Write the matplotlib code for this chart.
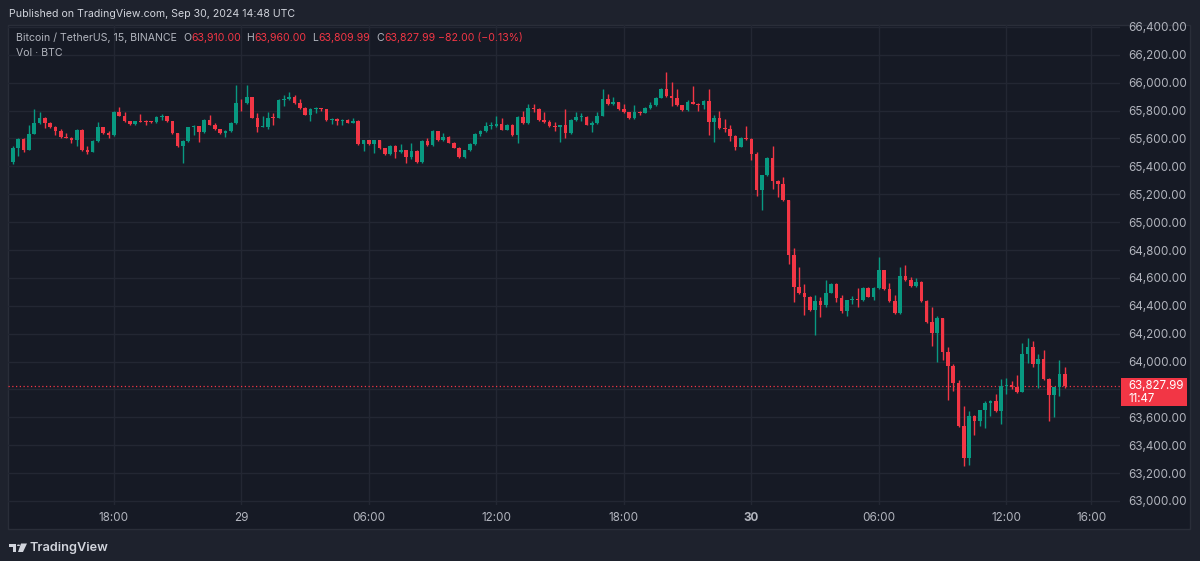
import matplotlib
matplotlib.use("Agg")
import matplotlib.pyplot as plt
from matplotlib.patches import Rectangle, Circle, Polygon

plt.rcParams["font.family"] = ["Inter", "DejaVu Sans"]

# 15 minute BTC/USDT candles, Sep 28 13:15 -> Sep 30 14:45 UTC
first_open = 65433
closes = [
    65535, 65593, 65520, 65632, 65711, 65750, 65711, 65680, 65656, 65612,
    65607, 65590, 65661, 65516, 65506, 65581, 65680, 65636, 65627, 65788,
    65764, 65723, 65704, 65723, 65720, 65718, 65715, 65757, 65760, 65723,
    65636, 65545, 65583, 65680, 65687, 65643, 65733, 65699, 65668, 65636,
    65651, 65711, 65856, 65851, 65897, 65748, 65680, 65684, 65748, 65745,
    65873, 65880, 65897, 65856, 65820, 65769, 65813, 65820, 65808, 65733,
    65740, 65728, 65733, 65714, 65728, 65559, 65588, 65559, 65588, 65530,
    65487, 65549, 65501, 65516, 65467, 65511, 65431, 65583, 65552, 65651,
    65590, 65614, 65571, 65535, 65467, 65516, 65561, 65634, 65651, 65687,
    65690, 65706, 65663, 65699, 65622, 65757, 65711, 65820, 65813, 65735,
    65716, 65687, 65684, 65694, 65636, 65733, 65752, 65756, 65699, 65711,
    65764, 65885, 65844, 65861, 65808, 65788, 65745, 65793, 65784, 65820,
    65837, 65893, 65958, 65904, 65890, 65837, 65801, 65861, 65849, 65842,
    65868, 65721, 65745, 65672, 65668, 65619, 65542, 65607, 65595, 65489,
    65234, 65336, 65461, 65293, 65277, 65157, 64761, 64536, 64489, 64464,
    64369, 64433, 64405, 64493, 64553, 64457, 64364, 64440, 64445, 64440,
    64528, 64464, 64528, 64656, 64517, 64433, 64349, 64614, 64584, 64541,
    64567, 64435, 64285, 64202, 64309, 64070, 63970, 63848, 63537, 63310,
    63611, 63575, 63652, 63705, 63719, 63644, 63824, 63831, 63819, 63783,
    64051, 64106, 63982, 64017, 63874, 63759, 63814, 63910, 63827.99,
]
highs = [
    65545, 65600, 65600, 65699, 65815, 65788, 65755, 65715, 65690, 65670,
    65640, 65612, 65665, 65665, 65547, 65590, 65721, 65685, 65655, 65795,
    65825, 65790, 65725, 65728, 65777, 65735, 65722, 65762, 65775, 65760,
    65725, 65640, 65590, 65685, 65695, 65690, 65740, 65772, 65712, 65670,
    65660, 65718, 65982, 65880, 65982, 65900, 65780, 65760, 65790, 65785,
    65880, 65915, 65935, 65910, 65880, 65825, 65818, 65828, 65822, 65815,
    65745, 65745, 65740, 65738, 65745, 65735, 65592, 65592, 65592, 65592,
    65535, 65555, 65555, 65560, 65520, 65570, 65515, 65590, 65600, 65660,
    65655, 65640, 65618, 65575, 65540, 65520, 65566, 65640, 65660, 65720,
    65715, 65760, 65750, 65705, 65705, 65762, 65795, 65846, 65848, 65818,
    65790, 65730, 65720, 65700, 65808, 65738, 65790, 65785, 65760, 65728,
    65790, 65958, 65922, 65900, 65865, 65845, 65792, 65840, 65800, 65825,
    65865, 65898, 65962, 66078, 66006, 65958, 65840, 65878, 65975, 65855,
    65873, 65953, 65765, 65800, 65740, 65700, 65625, 65612, 65690, 65600,
    65500, 65340, 65470, 65545, 65300, 65325, 65160, 64811, 64675, 64553,
    64470, 64476, 64460, 64585, 64560, 64560, 64480, 64445, 64470, 64529,
    64535, 64535, 64535, 64752, 64660, 64560, 64480, 64675, 64692, 64610,
    64600, 64575, 64440, 64388, 64330, 64315, 64106, 63985, 63870, 63680,
    63645, 63615, 63655, 63720, 63725, 63764, 63875, 63880, 63860, 63902,
    64135, 64170, 64150, 64055, 64080, 63880, 63820, 64010, 63960,
]
lows = [
    65420, 65474, 65505, 65515, 65630, 65705, 65675, 65675, 65627, 65605,
    65600, 65570, 65547, 65510, 65487, 65500, 65575, 65630, 65605, 65620,
    65758, 65718, 65698, 65700, 65715, 65700, 65708, 65710, 65735, 65718,
    65630, 65540, 65426, 65578, 65625, 65578, 65640, 65695, 65660, 65630,
    65610, 65645, 65705, 65800, 65845, 65745, 65643, 65680, 65665, 65700,
    65745, 65830, 65875, 65850, 65815, 65765, 65725, 65785, 65800, 65728,
    65705, 65700, 65695, 65710, 65710, 65555, 65511, 65555, 65498, 65525,
    65480, 65480, 65462, 65495, 65426, 65450, 65425, 65425, 65548, 65548,
    65585, 65585, 65566, 65530, 65462, 65462, 65510, 65556, 65620, 65645,
    65670, 65685, 65658, 65658, 65617, 65571, 65705, 65705, 65790, 65725,
    65710, 65682, 65656, 65578, 65607, 65630, 65728, 65725, 65694, 65650,
    65705, 65758, 65840, 65840, 65803, 65783, 65740, 65740, 65770, 65780,
    65815, 65832, 65888, 65898, 65832, 65832, 65796, 65796, 65844, 65796,
    65810, 65627, 65578, 65667, 65650, 65580, 65520, 65537, 65590, 65445,
    65185, 65090, 65330, 65240, 65180, 65150, 64700, 64430, 64485, 64335,
    64360, 64192, 64320, 64390, 64490, 64430, 64350, 64330, 64410, 64392,
    64435, 64460, 64440, 64520, 64510, 64425, 64340, 64340, 64575, 64535,
    64538, 64425, 64280, 64115, 64000, 64010, 63723, 63790, 63530, 63250,
    63255, 63470, 63540, 63525, 63610, 63640, 63555, 63770, 63800, 63775,
    63780, 63990, 63960, 63808, 63870, 63575, 63605, 63750, 63809.99,
]
opens = [first_open] + closes[:-1]

time_ticks = [19, 43, 67, 91, 115, 139, 163, 187, 203]
time_labels = ["18:00", "29", "06:00", "12:00", "18:00", "30", "06:00", "12:00", "16:00"]
price_ticks = list(range(63000, 66401, 200))
last_price = 63827.99

UP = "#089981"
DOWN = "#f23645"
TXT = "#b2b5be"
W, H = 1200, 561


def fx(px):
    return px / W


def fy(py):
    return 1 - py / H


fig = plt.figure(figsize=(12, 5.61), dpi=100, facecolor="#1e222d")

# inner chart panel, kept behind the axes
fig.patches.append(Rectangle((fx(8), fy(529)), (1190 - 8) / W, (529 - 25) / H,
                             transform=fig.transFigure, facecolor="#161a25",
                             edgecolor="#2a2e39", lw=1, zorder=-5))

ax = fig.add_axes([fx(8), fy(505), (1120 - 8) / W, (505 - 25) / H])
ax.set_facecolor("none")
ax.set_zorder(1)

x = list(range(len(closes)))
colors = [UP if c >= o else DOWN for o, c in zip(opens, closes)]
bottoms = [min(o, c) for o, c in zip(opens, closes)]
heights = [max(abs(c - o), 7) for o, c in zip(opens, closes)]

ax.vlines(x, lows, highs, colors=colors, lw=1, zorder=3)
ax.bar(x, heights, bottom=bottoms, width=0.68, color=colors, lw=0, zorder=4)

ax.axhline(last_price, color=DOWN, lw=0.9, ls=(0, (1, 2)), zorder=2)

ax.set_xlim(-0.94, 208.4)
ax.set_ylim(62971, 66414)

ax.set_yticks(price_ticks)
# the 63,800 label sits under the last price tag
ax.set_yticklabels(["" if p == 63800 else f"{p:,.2f}" for p in price_ticks])
ax.set_xticks(time_ticks)
ax.set_xticklabels(time_labels)
for lbl in ax.get_xticklabels():
    if lbl.get_text() == "30":
        lbl.set_fontweight("bold")

ax.yaxis.tick_right()
ax.tick_params(axis="y", length=0, pad=5.8, labelsize=8.4, labelcolor=TXT)
ax.tick_params(axis="x", length=0, pad=5, labelsize=8.4, labelcolor=TXT)
ax.grid(True, color="#232733", lw=1, zorder=0)
for s in ax.spines.values():
    s.set_visible(False)

# last price tag
fig.patches.append(Rectangle((fx(1121), fy(405.7)), (1187 - 1121) / W, (405.7 - 378.3) / H,
                             transform=fig.transFigure, facecolor=DOWN, lw=0, zorder=5))
fig.text(fx(1128), fy(385.6), f"{last_price:,.2f}", color="#ffffff", fontsize=8.3,
         va="center", ha="left", zorder=6)
fig.text(fx(1128), fy(398.5), "11:47", color="#ffffff", fontsize=8.3,
         va="center", ha="left", zorder=6)

# header and legend
fig.text(fx(9), fy(14), "Published on TradingView.com, Sep 30, 2024 14:48 UTC",
         color="#d1d4dc", fontsize=7.6, va="center", ha="left")

legend_parts = [
    (16, "Bitcoin / TetherUS, 15, BINANCE", TXT),
    (183, "O", TXT), (191, "63,910.00", DOWN),
    (246, "H", TXT), (254, "63,960.00", DOWN),
    (312, "L", TXT), (318, "63,809.99", DOWN),
    (376, "C", TXT), (384, "63,827.99", DOWN),
    (438, "\u221282.00 (\u22120.13%)", DOWN),
]
for px, s, col in legend_parts:
    fig.text(fx(px), fy(38), s, color=col, fontsize=7.6, va="center", ha="left", zorder=6)
fig.text(fx(16), fy(53), "Vol \u00b7 BTC", color=TXT, fontsize=7.6, va="center", ha="left",
         zorder=6)

# TradingView logo
LOGO = "#d1d4dc"
fig.patches.append(Rectangle((fx(8.5), fy(546.5)), 7.5 / W, 3 / H, transform=fig.transFigure,
                             facecolor=LOGO, lw=0))
fig.patches.append(Rectangle((fx(12.5), fy(552)), 3.5 / W, 8 / H, transform=fig.transFigure,
                             facecolor=LOGO, lw=0))
fig.patches.append(Circle((fx(18.5), fy(545.3)), 1.6 / W, transform=fig.transFigure,
                          facecolor=LOGO, lw=0))
fig.patches.append(Polygon([(fx(21), fy(543.5)), (fx(27), fy(543.5)), (fx(23), fy(552)),
                            (fx(18), fy(552))], closed=True, transform=fig.transFigure,
                           facecolor=LOGO, lw=0))
fig.text(fx(30), fy(547.5), "TradingView", color=LOGO, fontsize=9.2, fontweight="semibold",
         va="center", ha="left")

fig.savefig("out.png", dpi=100, facecolor=fig.get_facecolor())
